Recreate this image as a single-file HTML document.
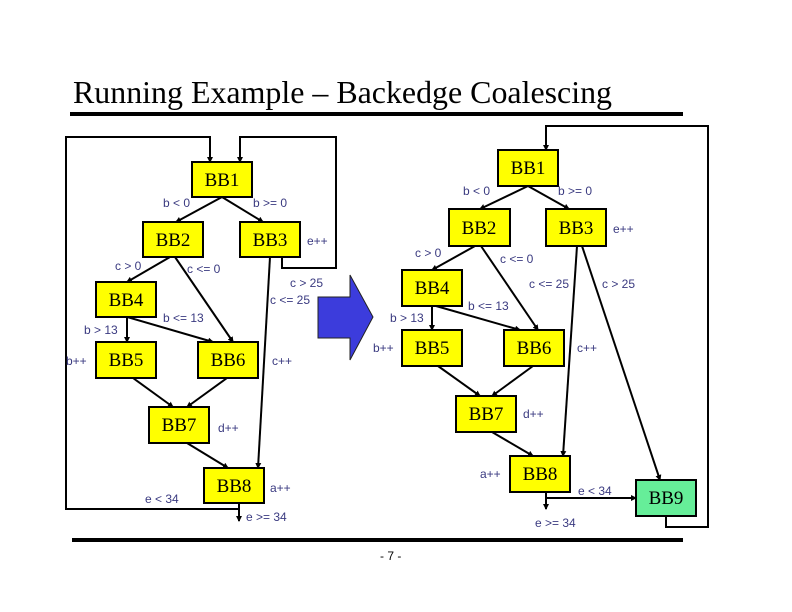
<!DOCTYPE html>
<html><head><meta charset="utf-8"><style>
html,body{margin:0;padding:0;background:#fff;}
svg{display:block;}
.t{font-family:"Liberation Serif",serif;font-size:19px;fill:#000;text-anchor:middle;}
.l{font-family:"Liberation Sans",sans-serif;font-size:12px;fill:#3a3a80;}
</style></head><body>
<svg width="792" height="612" viewBox="0 0 792 612" xmlns="http://www.w3.org/2000/svg">
<defs><marker id="a" markerWidth="6" markerHeight="6" refX="5" refY="3" orient="auto" markerUnits="userSpaceOnUse"><path d="M0,0 L6,3 L0,6z" fill="#000"/></marker></defs>
<text x="73" y="103" font-family="Liberation Serif,serif" font-size="32" fill="#000" textLength="539" lengthAdjust="spacingAndGlyphs">Running Example – Backedge Coalescing</text>
<rect x="70" y="112" width="613" height="4" fill="#000"/>
<rect x="72" y="538" width="611" height="4" fill="#000"/>
<text x="380" y="560" font-family="Liberation Sans,sans-serif" font-size="12" fill="#000">- 7 -</text>

<g stroke="#000" stroke-width="2" fill="none">
<line x1="222" y1="197" x2="176" y2="222" marker-end="url(#a)"/>
<line x1="222" y1="197" x2="263" y2="222" marker-end="url(#a)"/>
<line x1="170" y1="257" x2="127" y2="282" marker-end="url(#a)"/>
<line x1="175" y1="257" x2="233" y2="342" marker-end="url(#a)"/>
<line x1="127" y1="317" x2="127" y2="342" marker-end="url(#a)"/>
<line x1="127" y1="317" x2="213" y2="342" marker-end="url(#a)"/>
<line x1="133" y1="378" x2="173" y2="407" marker-end="url(#a)"/>
<line x1="227" y1="378" x2="187" y2="407" marker-end="url(#a)"/>
<line x1="187" y1="443" x2="228" y2="468" marker-end="url(#a)"/>
<line x1="270" y1="257" x2="258" y2="468" marker-end="url(#a)"/>
<polyline points="239,503 239,509 66,509 66,137 210,137 210,162" marker-end="url(#a)"/>
<line x1="239" y1="509" x2="239" y2="521" marker-end="url(#a)"/>
<polyline points="282,257 282,268 336,268 336,137 240,137 240,162" marker-end="url(#a)"/>
<line x1="528" y1="186" x2="480" y2="209" marker-end="url(#a)"/>
<line x1="528" y1="186" x2="569" y2="209" marker-end="url(#a)"/>
<line x1="475" y1="246" x2="432" y2="270" marker-end="url(#a)"/>
<line x1="481" y1="246" x2="538" y2="330" marker-end="url(#a)"/>
<line x1="432" y1="306" x2="432" y2="330" marker-end="url(#a)"/>
<line x1="436" y1="306" x2="520" y2="330" marker-end="url(#a)"/>
<line x1="438" y1="366" x2="480" y2="396" marker-end="url(#a)"/>
<line x1="533" y1="366" x2="492" y2="396" marker-end="url(#a)"/>
<line x1="492" y1="432" x2="533" y2="456" marker-end="url(#a)"/>
<line x1="577" y1="246" x2="563" y2="456" marker-end="url(#a)"/>
<line x1="582" y1="246" x2="660" y2="480" marker-end="url(#a)"/>
<polyline points="546,492 546,498 636,498" marker-end="url(#a)"/>
<line x1="546" y1="498" x2="546" y2="509" marker-end="url(#a)"/>
<polyline points="666,516 666,527 708,527 708,126 546,126 546,150" marker-end="url(#a)"/>
</g>

<path d="M318,297 L350,297 L350,275 L373,317 L350,360 L350,338 L318,338 Z" fill="#3c3cdc" stroke="#222" stroke-width="1"/>

<g fill="#ffff00" stroke="#000" stroke-width="2">
<rect x="192" y="162" width="60" height="35"/>
<rect x="143" y="222" width="60" height="35"/>
<rect x="240" y="222" width="60" height="35"/>
<rect x="96" y="282" width="60" height="35"/>
<rect x="96" y="342" width="60" height="36"/>
<rect x="198" y="342" width="60" height="36"/>
<rect x="149" y="407" width="60" height="36"/>
<rect x="204" y="468" width="60" height="35"/>
<rect x="498" y="150" width="60" height="36"/>
<rect x="449" y="209" width="61" height="37"/>
<rect x="546" y="209" width="60" height="37"/>
<rect x="402" y="270" width="60" height="36"/>
<rect x="402" y="330" width="60" height="36"/>
<rect x="504" y="330" width="60" height="36"/>
<rect x="456" y="396" width="60" height="36"/>
<rect x="510" y="456" width="60" height="36"/>
<rect x="636" y="480" width="60" height="36" fill="#66ee99"/>
</g>
<text class="t" x="222" y="186">BB1</text>
<text class="t" x="173" y="246">BB2</text>
<text class="t" x="270" y="246">BB3</text>
<text class="t" x="126" y="306">BB4</text>
<text class="t" x="126" y="366">BB5</text>
<text class="t" x="228" y="366">BB6</text>
<text class="t" x="179" y="431">BB7</text>
<text class="t" x="234" y="492">BB8</text>
<text class="t" x="528" y="174">BB1</text>
<text class="t" x="479" y="234">BB2</text>
<text class="t" x="576" y="234">BB3</text>
<text class="t" x="432" y="294">BB4</text>
<text class="t" x="432" y="354">BB5</text>
<text class="t" x="534" y="354">BB6</text>
<text class="t" x="486" y="420">BB7</text>
<text class="t" x="540" y="480">BB8</text>
<text class="t" x="666" y="504">BB9</text>

<text class="l" x="163" y="207">b &lt; 0</text>
<text class="l" x="253" y="207">b &gt;= 0</text>
<text class="l" x="307" y="245">e++</text>
<text class="l" x="115" y="270">c &gt; 0</text>
<text class="l" x="187" y="273">c &lt;= 0</text>
<text class="l" x="290" y="287">c &gt; 25</text>
<text class="l" x="270" y="304">c &lt;= 25</text>
<text class="l" x="163" y="322">b &lt;= 13</text>
<text class="l" x="84" y="334">b &gt; 13</text>
<text class="l" x="66" y="365">b++</text>
<text class="l" x="272" y="365">c++</text>
<text class="l" x="218" y="432">d++</text>
<text class="l" x="270" y="492">a++</text>
<text class="l" x="145" y="503">e &lt; 34</text>
<text class="l" x="246" y="521">e &gt;= 34</text>

<text class="l" x="463" y="195">b &lt; 0</text>
<text class="l" x="558" y="195">b &gt;= 0</text>
<text class="l" x="613" y="233">e++</text>
<text class="l" x="415" y="257">c &gt; 0</text>
<text class="l" x="500" y="263">c &lt;= 0</text>
<text class="l" x="529" y="288">c &lt;= 25</text>
<text class="l" x="602" y="288">c &gt; 25</text>
<text class="l" x="468" y="310">b &lt;= 13</text>
<text class="l" x="390" y="322">b &gt; 13</text>
<text class="l" x="373" y="352">b++</text>
<text class="l" x="577" y="352">c++</text>
<text class="l" x="523" y="418">d++</text>
<text class="l" x="480" y="478">a++</text>
<text class="l" x="578" y="495">e &lt; 34</text>
<text class="l" x="535" y="527">e &gt;= 34</text>
</svg>
</body></html>
